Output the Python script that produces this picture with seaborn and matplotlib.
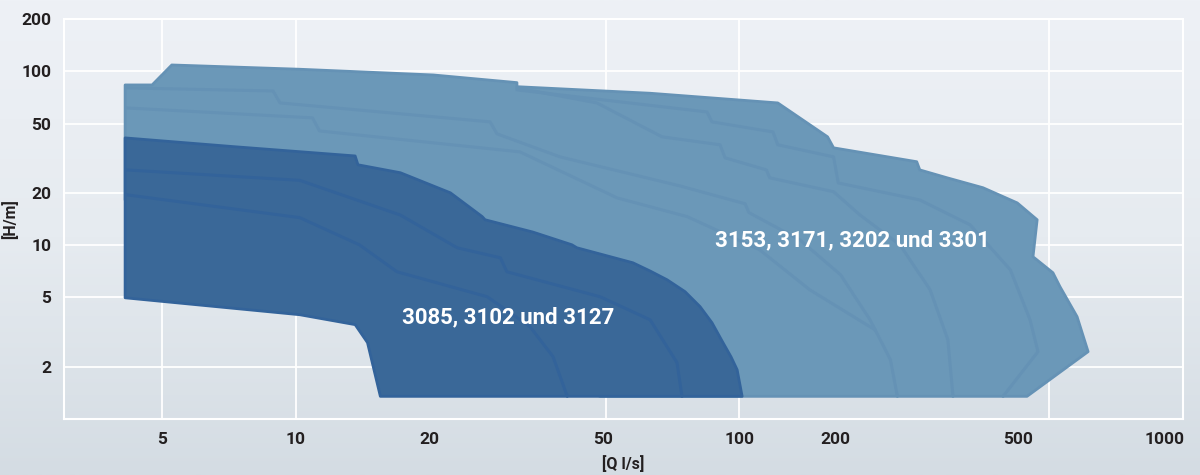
import numpy as np
import pandas as pd
import matplotlib
matplotlib.use("Agg")
import matplotlib.pyplot as plt
import matplotlib.transforms as mtransforms
import seaborn as sns
from matplotlib.colors import LinearSegmentedColormap
from matplotlib.ticker import NullFormatter, LogLocator

# ---------------- data (Q in l/s, H in m) ----------------
x_ticks = [5, 10, 20, 50, 100, 200, 500, 1000]
x_labels = ["5", "10", "20", "50", "100", "200", "500", "1000"]
y_ticks = [2, 5, 10, 20, 50, 100, 200]
y_labels = ["2", "5", "10", "20", "50", "100", "200"]
x_grid = [5, 10, 50, 100, 500, 1000]

# operating field 3153, 3171, 3202 und 3301 (outline)
big_q = [4.12, 4.74, 5.25, 10.2, 20.4, 31.5, 31.5, 62.9, 122, 158, 163, 251, 255,
         294, 354, 423, 469, 459, 509, 528, 577, 611, 445, 48.5, 4.12]
big_h = [83.5, 83.5, 108.8, 102.8, 95.3, 86.1, 81.6, 74.8, 65.8, 42.0, 36.3, 30.2, 27.1,
         24.4, 21.4, 17.5, 14.0, 8.58, 6.94, 5.77, 3.88, 2.44, 1.35, 1.35, 18.2]

# operating field 3085, 3102 und 3127 (outline)
small_q = [4.12, 7.21, 13.6, 13.8, 17.2, 22.3, 26.3, 26.7, 34.2, 41.9, 43.0, 57.5,
           62.9, 68.7, 75.4, 81.5, 86.7, 91.8, 95.7, 98.8, 101.4, 15.5, 14.5, 13.6,
           10.2, 4.12]
small_h = [41.4, 36.9, 32.6, 29.0, 26.1, 20.0, 14.6, 14.0, 11.9, 10.05, 9.66, 7.92,
           7.1, 6.32, 5.40, 4.43, 3.58, 2.75, 2.28, 1.92, 1.35, 1.35, 2.75, 3.49,
           3.98, 4.98]

# inner pump curves, large field
big_c1_q = [4.14, 8.88, 9.21, 27.4, 28.4, 39.4, 73.5, 103, 105, 137, 169, 197, 219, 227]
big_c1_h = [80.3, 77.1, 65.8, 51.2, 43.7, 32.2, 21.9, 17.3, 15.4, 10.7, 6.76, 3.72, 2.19, 1.35]
big_c2_q = [31.5, 47.7, 66.9, 90.4, 92.8, 115, 117, 163, 187, 230, 269, 295, 303]
big_c2_h = [80.3, 65.8, 42.0, 37.8, 31.8, 27.1, 24.4, 20.3, 14.9, 10.05, 5.54, 2.86, 1.35]
big_c3_q = [31.5, 84.5, 86.7, 119, 122, 163, 167, 255, 331, 408, 452, 471, 393]
big_c3_h = [78.2, 58.4, 51.2, 44.8, 37.8, 32.2, 22.8, 18.2, 13.1, 7.22, 3.72, 2.44, 1.35]
big_c4_q = [4.14, 10.9, 11.3, 32.0, 53.0, 76.2, 111, 144, 202]
big_c4_h = [61.6, 54.0, 45.4, 34.4, 18.7, 14.6, 9.41, 5.54, 3.26]

# inner pump curves, small field
small_c1_q = [4.14, 10.2, 17.2, 23.1, 28.9, 29.9, 48.5, 62.9, 72.3, 74.2]
small_c1_h = [27.1, 23.6, 14.9, 9.66, 8.46, 7.03, 5.05, 3.72, 2.11, 1.35]
small_c2_q = [4.14, 10.2, 13.9, 16.9, 27.0, 33.7, 38.0, 40.9]
small_c2_h = [19.5, 14.4, 10.05, 7.03, 5.05, 3.40, 2.28, 1.35]

label_small = "3085, 3102 und 3127"
label_big = "3153, 3171, 3202 und 3301"

# ---------------- style ----------------
sns.set_theme(style="white")
plt.rcParams['font.family'] = ['Roboto', 'DejaVu Sans']

LIGHT = "#6b98b8"
LIGHT_EDGE = "#6592b5"
DARK = "#3a6898"
DARK_EDGE = "#33639a"
TXT = "#231f20"

fig = plt.figure(figsize=(12, 4.75), dpi=100)

# background gradient
bg = fig.add_axes([0, 0, 1, 1], zorder=-10)
grad = np.linspace(0, 1, 256)[:, None]
cmap = LinearSegmentedColormap.from_list("bg", ["#eef1f6", "#e6ebf0", "#d4dce3"])
bg.imshow(grad, aspect="auto", cmap=cmap, extent=[0, 1, 0, 1])
bg.set_axis_off()

ax = fig.add_axes([64 / 1200, 1 - 419 / 475, (1183 - 64) / 1200, (419 - 19) / 475])
ax.set_facecolor("none")
ax.set_xscale("log")
ax.set_yscale("log")
ax.set_xlim(3, 1000)
ax.set_ylim(1, 200)

# grid
for y in y_ticks:
    ax.axhline(y, color="white", lw=1.3, zorder=1)
for x in x_grid:
    ax.axvline(x, color="white", lw=1.3, zorder=1)

# fields
ax.fill(big_q, big_h, color=LIGHT, zorder=2, lw=0)
big_df = pd.DataFrame({
    "Q": big_c1_q + big_c2_q + big_c3_q + big_c4_q,
    "H": big_c1_h + big_c2_h + big_c3_h + big_c4_h,
    "curve": ["c1"] * len(big_c1_q) + ["c2"] * len(big_c2_q)
             + ["c3"] * len(big_c3_q) + ["c4"] * len(big_c4_q),
})
sns.lineplot(data=big_df, x="Q", y="H", units="curve", estimator=None, sort=False,
             color=LIGHT_EDGE, lw=2.2, ax=ax, zorder=3, legend=False)
ax.fill(big_q, big_h, facecolor="none", edgecolor=LIGHT_EDGE, lw=2, zorder=3,
        joinstyle="round")

ax.fill(small_q, small_h, color=DARK, zorder=4, lw=0)
small_df = pd.DataFrame({
    "Q": small_c1_q + small_c2_q,
    "H": small_c1_h + small_c2_h,
    "curve": ["c1"] * len(small_c1_q) + ["c2"] * len(small_c2_q),
})
sns.lineplot(data=small_df, x="Q", y="H", units="curve", estimator=None, sort=False,
             color=DARK_EDGE, lw=2.2, ax=ax, zorder=5, legend=False)
ax.fill(small_q, small_h, facecolor="none", edgecolor=DARK_EDGE, lw=2, zorder=5,
        joinstyle="round")

# labels inside fields
ax.text(30.1, 3.83, label_small, color="white", fontsize=16, fontweight="bold",
        ha="center", va="center", zorder=6)
ax.text(180, 10.6, label_big, color="white", fontsize=16, fontweight="bold",
        ha="center", va="center", zorder=6)

# ticks
ax.set_xticks(x_ticks)
ax.set_xticklabels(x_labels)
ax.set_yticks(y_ticks)
ax.set_yticklabels(y_labels)
ax.xaxis.set_minor_locator(LogLocator(base=10, subs=np.arange(2, 10) * 1.0, numticks=20))
ax.yaxis.set_minor_locator(LogLocator(base=10, subs=np.arange(2, 10) * 1.0, numticks=20))
ax.xaxis.set_minor_formatter(NullFormatter())
ax.yaxis.set_minor_formatter(NullFormatter())
ax.tick_params(axis="both", which="major", direction="in", length=0, pad=9,
               labelsize=12.5, labelcolor=TXT)
ax.tick_params(axis="x", which="major", length=9, width=1.3, color="white")
ax.tick_params(axis="both", which="minor", direction="in", length=5, width=1.2,
               color="white")
for lab in ax.get_xticklabels() + ax.get_yticklabels():
    lab.set_fontweight("bold")

# label shifts as printed in the original sheet (pixels)
label_shift = {"50": -3, "200": -38, "500": -31, "1000": -18}
for lab in ax.get_xticklabels():
    dx = label_shift.get(lab.get_text(), 0)
    if dx:
        lab.set_transform(lab.get_transform()
                          + mtransforms.ScaledTranslation(dx / 100, 0, fig.dpi_scale_trans))

for s in ax.spines.values():
    s.set_color("white")
    s.set_linewidth(1.5)
    s.set_zorder(1)

ax.set_xlabel("[Q l/s]", fontsize=11.5, fontweight="bold", color=TXT, labelpad=6)
ax.set_ylabel("[H/m]", fontsize=11.5, fontweight="bold", color=TXT)
ax.yaxis.set_label_coords(-0.041, 0.5)

fig.savefig("out.png", dpi=100)
